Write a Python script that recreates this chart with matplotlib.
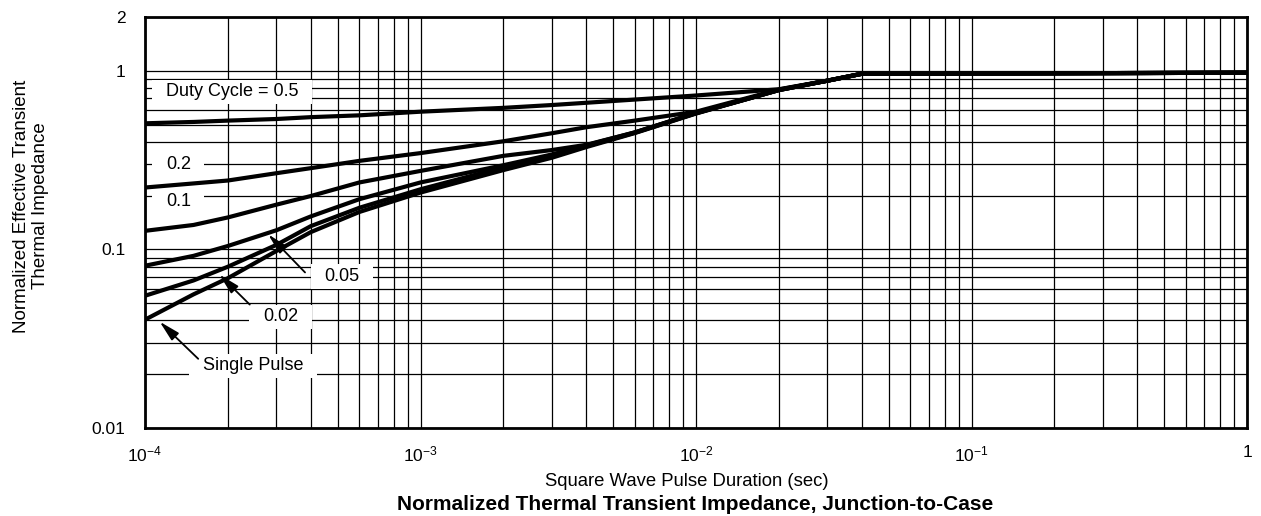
import numpy as np
import matplotlib
matplotlib.use('Agg')
import matplotlib.pyplot as plt
from matplotlib.path import Path

plt.rcParams['font.family'] = ['Liberation Sans', 'DejaVu Sans']
plt.rcParams['mathtext.default'] = 'regular'

# pulse duration (sec)
t = [1e-4, 1.5e-4, 2e-4, 3e-4, 4e-4, 6e-4, 1e-3, 2e-3, 3e-3, 4e-3,
     6e-3, 1e-2, 2e-2, 3e-2, 4e-2, 1.0]

# normalized effective transient thermal impedance per duty cycle
d50 = [.508, .517, .526, .537, .550, .563, .590, .620, .643, .662, .690, .727, .788, .880, .962, .975]
d20 = [.222, .234, .243, .267, .285, .313, .346, .403, .447, .483, .526, .590, .785, .880, .962, .975]
d10 = [.127, .137, .151, .178, .199, .237, .275, .334, .360, .385, .452, .580, .780, .880, .962, .975]
d05 = [.081, .092, .1045, .128, .153, .191, .237, .296, .340, .383, .452, .580, .780, .880, .962, .975]
d02 = [.055, .067, .080, .106, .135, .171, .217, .288, .332, .378, .450, .578, .780, .880, .962, .975]
single = [.0404, .056, .069, .098, .125, .162, .208, .278, .326, .374, .448, .576, .780, .880, .962, .975]

xticks = [1e-4, 1e-3, 1e-2, 1e-1, 1]
xticklabels = ['10$^{-4}$', '10$^{-3}$', '10$^{-2}$', '10$^{-1}$', '1']
yticks = [0.01, 0.1, 1, 2]
yticklabels = ['0.01', '0.1', '1', '2']


def padbox(x0, y0, width, height, mutation_size, px=0.75, py=0.2):
    # white label box, wider than tall
    dx = px * mutation_size
    dy = py * mutation_size
    return Path.unit_rectangle().transformed(
        matplotlib.transforms.Affine2D().scale(width + 2 * dx, height + 2 * dy)
        .translate(x0 - dx, y0 - dy))


fig = plt.figure(figsize=(12.61, 5.16), dpi=100)
ax = fig.add_axes([145 / 1261., 1 - 428 / 516., 1102 / 1261., 411 / 516.])

ax.set_xscale('log')
ax.set_yscale('log')
ax.set_xlim(1e-4, 1)
ax.set_ylim(0.01, 2)

ax.grid(True, which='both', color='black', lw=0.9)
ax.set_axisbelow(True)

for s in [d50, d20, d10, d05, d02, single]:
    ax.plot(t, s, color='black', lw=3.0, solid_capstyle='butt', zorder=4)

ax.set_xticks(xticks)
ax.set_xticklabels(xticklabels)
ax.set_yticks(yticks)
ax.set_yticklabels(yticklabels)
ax.tick_params(which='both', length=0)
ax.tick_params(axis='x', pad=12, labelsize=12.5)
ax.tick_params(axis='y', pad=14, labelsize=12.5)
for sp in ax.spines.values():
    sp.set_linewidth(2.0)

bb = dict(boxstyle=padbox, fc='white', ec='none')
fs = 13
ax.text(1.19e-4, 0.762, 'Duty Cycle = 0.5', fontsize=fs, va='center', bbox=bb, zorder=3)
ax.text(1.19e-4, 0.30, '0.2', fontsize=fs, va='center', bbox=bb, zorder=3)
ax.text(1.19e-4, 0.186, '0.1', fontsize=fs, va='center', bbox=bb, zorder=3)
ax.text(4.47e-4, 0.0705, '0.05', fontsize=fs, va='center', bbox=bb, zorder=3)
ax.text(2.68e-4, 0.042, '0.02', fontsize=fs, va='center', bbox=bb, zorder=3)
ax.text(1.62e-4, 0.0223, 'Single Pulse', fontsize=fs, va='center', bbox=bb, zorder=3)

ap = dict(arrowstyle='-|>,head_length=0.9,head_width=0.22', color='black',
          lw=1.3, shrinkA=0, shrinkB=0, mutation_scale=14)
ax.annotate('', xy=(2.80e-4, 0.1214), xytext=(3.81e-4, 0.0743), arrowprops=ap, zorder=5)
ax.annotate('', xy=(1.86e-4, 0.0724), xytext=(2.40e-4, 0.0491), arrowprops=ap, zorder=5)
ax.annotate('', xy=(1.13e-4, 0.0394), xytext=(1.56e-4, 0.0244), arrowprops=ap, zorder=5)

fig.text(31 / 1261., 1 - 206 / 516., 'Normalized Effective Transient\nThermal Impedance',
         rotation=90, ha='center', va='center', multialignment='center', fontsize=13.5,
         linespacing=1.2)
fig.text(687 / 1261., 1 - 481 / 516., 'Square Wave Pulse Duration (sec)',
         ha='center', va='center', fontsize=13.3)
fig.text(695 / 1261., 1 - 504 / 516., 'Normalized Thermal Transient Impedance, Junction-to-Case',
         ha='center', va='center', fontsize=15, fontweight='bold')

fig.savefig('out.png', dpi=100)
